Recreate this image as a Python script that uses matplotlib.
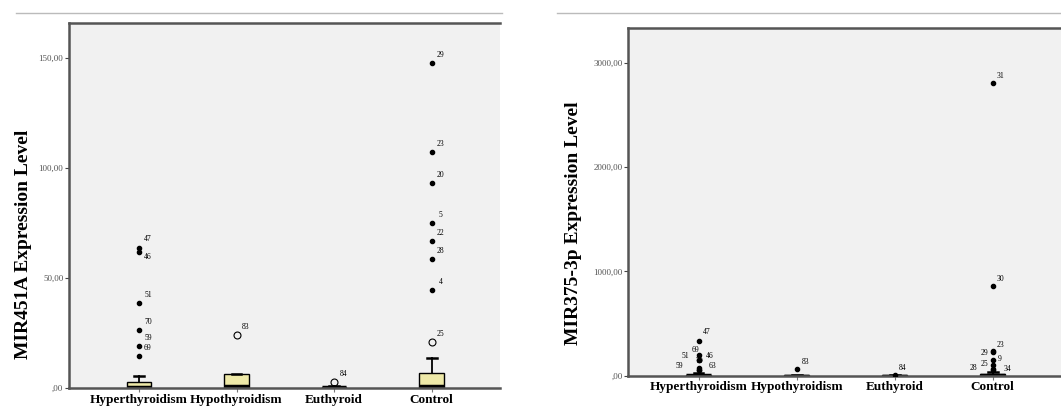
import numpy as np
import matplotlib.pyplot as plt
from matplotlib.lines import Line2D

groups = ['Hyperthyroidism', 'Hypothyroidism', 'Euthyroid', 'Control']

# MIR451A box stats (q1, median, q3, upper whisker)
mir451_q1 = [0.0, 0.0, 0.0, 0.0]
mir451_med = [0.5, 0.8, 0.3, 0.8]
mir451_q3 = [2.7, 6.4, 0.6, 6.7]
mir451_whi = [5.6, 6.4, 1.0, 13.5]
# outliers: group index, value, case id, extreme (filled) or not
mir451_out_grp = [0, 0, 0, 0, 0, 0, 1, 2, 3, 3, 3, 3, 3, 3, 3, 3]
mir451_out_val = [63.5, 62.0, 38.8, 26.2, 19.2, 14.5, 24.0, 2.9, 147.6, 107.3, 93.3, 74.9, 66.9, 58.5, 44.5, 20.8]
mir451_out_id = ['47', '46', '51', '70', '59', '69', '83', '84', '29', '23', '20', '5', '22', '28', '4', '25']
mir451_out_ext = [1, 1, 1, 1, 1, 1, 0, 0, 1, 1, 1, 1, 1, 1, 1, 0]
mir451_lab_off = [(9, 9), (9, -5)] + [(9, 8)] * 14
mir451_ticks = [0, 50, 100, 150]
mir451_ticklabels = [',00', '50,00', '100,00', '150,00']

# MIR375-3p
mir375_q1 = [0.0, 0.0, 0.0, 0.0]
mir375_med = [2.0, 1.0, 0.5, 3.0]
mir375_q3 = [10.0, 5.0, 2.0, 15.0]
mir375_whi = [25.0, 10.0, 4.0, 40.0]
mir375_out_grp = [0, 0, 0, 0, 0, 0, 0, 1, 2, 3, 3, 3, 3, 3, 3, 3, 3]
mir375_out_val = [335, 200, 150, 150, 70, 50, 50, 64, 8, 2810, 863, 240, 230, 150, 100, 60, 50]
mir375_out_id = ['47', '69', '51', '46', '70', '59', '63', '83', '84', '31', '30', '23', '29', '9', '25', '28', '34']
mir375_ticks = [0, 1000, 2000, 3000]
mir375_ticklabels = [',00', '1000,00', '2000,00', '3000,00']
# label offsets in pixels (dx, dy), the right panel is crowded
mir375_lab_off = [(8, 9), (-3, 5), (-13, 4), (11, 4), (1, 7), (-19, 4), (14, 4), (9, 7), (8, 7),
                  (8, 7), (8, 7), (8, 6), (-8, -1), (7, 1), (-8, 1), (-19, 1), (15, 1)]

serif = 'Liberation Serif'
fig = plt.figure(figsize=(10.61, 4.08), dpi=100)
ax1 = fig.add_axes([69/1061, 1-388/408, 431/1061, 365/408])
ax2 = fig.add_axes([628.3/1061, 1-375.7/408, 433/1061, 348/408])

for x0, x1 in [(16, 502), (557, 1061)]:
    fig.add_artist(Line2D([x0/1061, x1/1061], [1-13/408]*2, color='#bbbbbb', lw=1))


def draw(ax, q1, med, q3, whi, ylim, ticks, ticklabels, ylabel):
    stats = []
    for i in range(len(groups)):
        stats.append(dict(q1=q1[i], med=med[i], q3=q3[i], whislo=q1[i], whishi=whi[i], fliers=[]))
    pos = np.arange(1, len(groups)+1)
    ax.bxp(stats, positions=pos, widths=0.25, capwidths=0.1, showfliers=False, patch_artist=True,
           boxprops=dict(facecolor='#eee9a8', edgecolor='black', lw=1.0),
           medianprops=dict(color='black', lw=2.5, solid_capstyle='butt'),
           whiskerprops=dict(color='black', lw=1.3), capprops=dict(color='black', lw=1.8))
    ax.set_facecolor('#f1f1f1')
    ax.set_xlim(0.283, 4.70)
    ax.set_ylim(*ylim)
    ax.set_xticks(pos)
    ax.set_xticklabels(groups, fontfamily=serif, fontweight='bold', fontsize=9.5)
    ax.set_yticks(ticks)
    ax.set_yticklabels(ticklabels, fontfamily=serif, fontsize=6.5, color='#555555')
    ax.tick_params(axis='y', length=3, width=0.8, color='#444444', pad=1)
    ax.tick_params(axis='x', length=3, width=0.8, color='#777777', pad=1)
    for s in ['left', 'top', 'bottom']:
        ax.spines[s].set_color('#555555')
        ax.spines[s].set_linewidth(1.8)
    ax.spines['right'].set_visible(False)
    ax.set_ylabel(ylabel, fontfamily=serif, fontweight='bold', fontsize=14)
    return pos


pos = draw(ax1, mir451_q1, mir451_med, mir451_q3, mir451_whi, (0, 166),
           mir451_ticks, mir451_ticklabels, 'MIR451A Expression Level')
ax1.yaxis.set_label_coords(-0.086, 0.394)
for g, v, cid, ext, off in zip(mir451_out_grp, mir451_out_val, mir451_out_id, mir451_out_ext, mir451_lab_off):
    if ext:
        ax1.plot(pos[g], v, 'o', ms=3, color='black', zorder=5)
    else:
        ax1.plot(pos[g], v, 'o', ms=5, mfc='none', mec='black', mew=0.8, zorder=5)
    ax1.annotate(cid, (pos[g], v), xytext=off, textcoords='offset pixels',
                 fontsize=5.5, fontfamily=serif, ha='center', va='center')

pos = draw(ax2, mir375_q1, mir375_med, mir375_q3, mir375_whi, (0, 3336),
           mir375_ticks, mir375_ticklabels, 'MIR375-3p Expression Level')
ax2.yaxis.set_label_coords(-0.108, 0.438)
for g, v, cid, off in zip(mir375_out_grp, mir375_out_val, mir375_out_id, mir375_lab_off):
    ax2.plot(pos[g], v, 'o', ms=3, color='black', zorder=5)
    ax2.annotate(cid, (pos[g], v), xytext=off, textcoords='offset pixels',
                 fontsize=5.5, fontfamily=serif, ha='center', va='center')

fig.savefig('out.png', dpi=100)
